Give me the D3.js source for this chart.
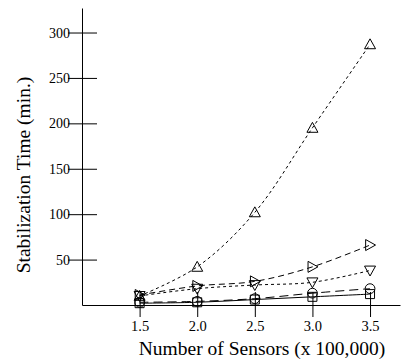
<!DOCTYPE html>
<html>
<head>
<meta charset="utf-8">
<script src="https://cdn.jsdelivr.net/npm/d3@7"></script>
<style>
  body { margin: 0; background: #fff; }
</style>
</head>
<body>
<div class="canvas"></div>
<script>
// sensors (x 100,000)
const sensors = [1.5, 2.0, 2.5, 3.0, 3.5];
const xTickLabels = ['1.5', '2.0', '2.5', '3.0', '3.5'];
const yTicks = [50, 100, 150, 200, 250, 300];

// stabilization time (min.) for each series
const upTri = [10, 42, 102, 195, 287];
const rightTri = [11, 21, 26, 42, 66];
const downTri = [10, 18, 22, 25, 38];
const circles = [3, 4, 7, 13, 18];
const squares = [2, 3, 6, 9, 12];

const dims = {width: 411, height: 364};
const serif = "'Liberation Serif', 'Times New Roman', serif";

const svg = d3.select('.canvas')
    .append('svg')
    .attr('width', dims.width)
    .attr('height', dims.height);

const x = d3.scaleLinear().domain([1, 3.76]).range([82, 400]);
const y = d3.scaleLinear().domain([0, 327]).range([305, 8]);

// axes
const xAxis = d3.axisBottom(x)
    .tickValues(sensors)
    .tickFormat((d, i) => xTickLabels[i])
    .tickSizeOuter(0);

const yAxis = d3.axisLeft(y)
    .tickValues(yTicks)
    .tickSizeOuter(0);

const gx = svg.append('g')
    .attr('transform', `translate(0,${y(0)})`)
    .call(xAxis);
// ticks cross the axis line
gx.selectAll('line').attr('y1', -13).attr('y2', 12).attr('stroke', '#000');
gx.selectAll('text')
    .attr('y', 26).attr('dy', 0)
    .attr('fill', '#000')
    .style('font-family', serif)
    .style('font-size', '14.5px');
gx.select('.domain').attr('stroke', '#000');

const gy = svg.append('g')
    .attr('transform', `translate(${x(1)},0)`)
    .call(yAxis);
gy.selectAll('line').attr('x1', -14).attr('x2', 15).attr('stroke', '#000');
gy.selectAll('text')
    .attr('x', -12)
    .attr('fill', '#000')
    .style('font-family', serif)
    .style('font-size', '14px');
gy.select('.domain').attr('stroke', '#000');

// axis titles
svg.append('text')
    .attr('x', 262).attr('y', 355)
    .attr('text-anchor', 'middle')
    .style('font-family', serif)
    .style('font-size', '19.5px')
    .text('Number of Sensors (x 100,000)');

svg.append('text')
    .attr('transform', 'translate(30,175) rotate(-90)')
    .attr('text-anchor', 'middle')
    .style('font-family', serif)
    .style('font-size', '19.5px')
    .text('Stabilization Time (min.)');

// series
const series = [
  {name: 'up', values: upTri, dash: '3,3', marker: 'up'},
  {name: 'right', values: rightTri, dash: '6,4', marker: 'right'},
  {name: 'down', values: downTri, dash: '3,3', marker: 'down'},
  {name: 'circle', values: circles, dash: '9,5', marker: 'circle'},
  {name: 'square', values: squares, dash: null, marker: 'square'}
];

const line = d3.line()
    .x((d, i) => x(sensors[i]))
    .y(d => y(d))
    .curve(d3.curveCatmullRom);

const markerPath = (type) => {
  const s = 5.5;
  switch (type) {
    case 'up': return `M0,${-s}L${s},${s * 0.8}L${-s},${s * 0.8}Z`;
    case 'down': return `M0,${s}L${s},${-s * 0.8}L${-s},${-s * 0.8}Z`;
    case 'right': return `M${s},0L${-s * 0.8},${s}L${-s * 0.8},${-s}Z`;
    case 'square': return `M-4.5,-4.5H4.5V4.5H-4.5Z`;
    default: return d3.symbol(d3.symbolCircle, 75)();
  }
};

const graph = svg.append('g');

series.forEach(s => {
  graph.append('path')
      .attr('d', line(s.values))
      .attr('fill', 'none')
      .attr('stroke', '#000')
      .attr('stroke-width', 1)
      .attr('stroke-dasharray', s.dash);

  graph.selectAll(`.m-${s.name}`)
      .data(s.values)
      .enter()
      .append('path')
      .attr('class', `m-${s.name}`)
      .attr('transform', (d, i) => `translate(${x(sensors[i])},${y(d)})`)
      .attr('d', markerPath(s.marker))
      .attr('fill', 'none')
      .attr('stroke', '#000')
      .attr('stroke-width', 1);
});
</script>
</body>
</html>
